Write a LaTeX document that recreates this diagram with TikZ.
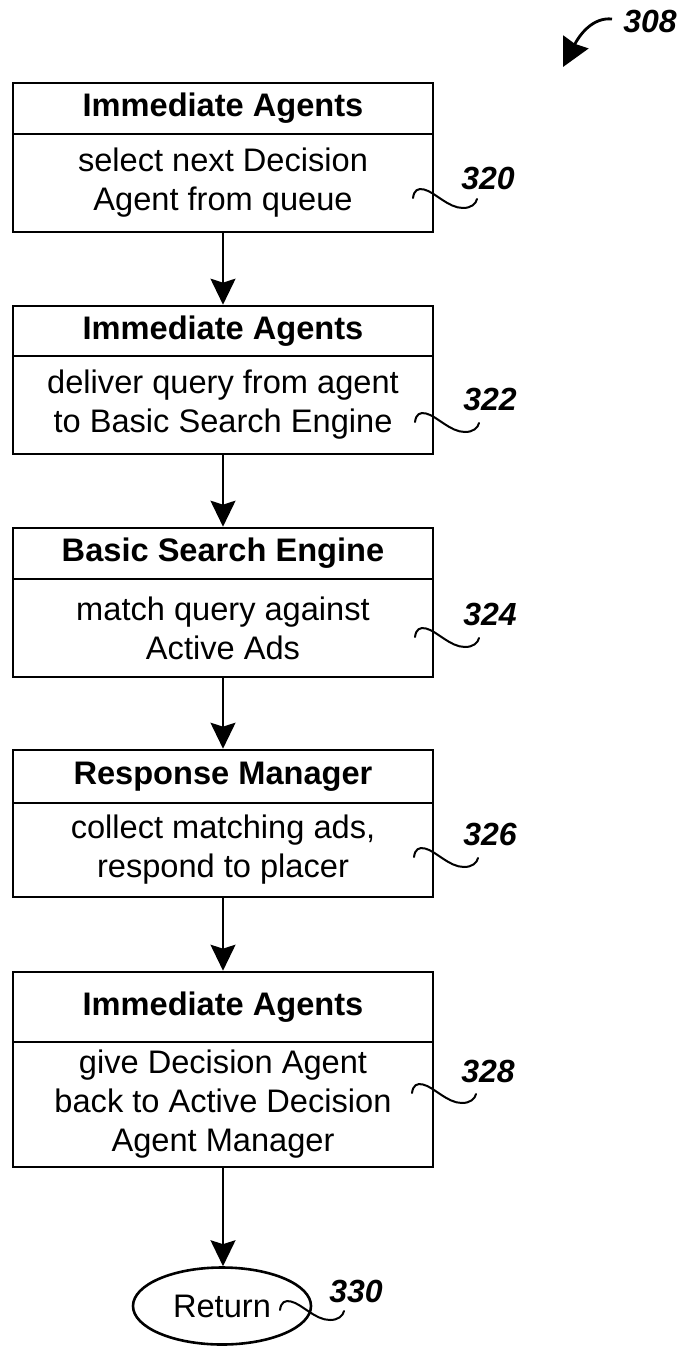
\documentclass[tikz,border=0pt]{standalone}
\usepackage{fontspec}
\setmainfont{Liberation Sans}
\usetikzlibrary{arrows.meta,shapes.geometric}
\begin{document}
\begin{tikzpicture}[x=0.5pt,y=-0.5pt,
  txt/.style={font=\fontsize{16.3}{19.5}\selectfont, align=center},
  hdr/.style={txt, draw, line width=1.3pt, minimum width=210pt, inner sep=0pt, font=\fontsize{16.3}{19.5}\selectfont\bfseries},
  bdy/.style={txt, draw, line width=1.3pt, minimum width=210pt, inner sep=0pt},
  lbl/.style={font=\fontsize{16}{19}\selectfont\bfseries\itshape, inner sep=0pt},
  arr/.style={line width=1pt, -{Stealth[length=13pt,width=12.5pt,inset=2pt]}},
  squig/.pic={\draw[line width=1pt, line cap=round] (0,0) .. controls (1,-8) and (5,-10) .. (11,-8.5) .. controls (22,-6) and (35,10) .. (50,10) .. controls (58,10) and (63,6) .. (64,1);}
]
\useasboundingbox (0,0) rectangle (684,1347);

% Box 1
\node[hdr, minimum height=25.5pt] (h1) at (223,108.5) {Immediate Agents};
\node[bdy, minimum height=49pt] (b1) at (223,183) {select next Decision\\Agent from queue};
% Box 2
\node[hdr, minimum height=25pt] (h2) at (223,331) {Immediate Agents};
\node[bdy, minimum height=49pt] (b2) at (223,405) {deliver query from agent\\to Basic Search Engine};
% Box 3
\node[hdr, minimum height=25.5pt] (h3) at (223,553.5) {Basic Search Engine};
\node[bdy, minimum height=49pt] (b3) at (223,628) {match query against\\Active Ads};
% Box 4
\node[hdr, minimum height=26.5pt] (h4) at (223,776.5) {Response Manager};
\node[bdy, minimum height=47pt] (b4) at (223,850) {collect matching ads,\\respond to placer};
% Box 5
\node[hdr, minimum height=35pt] (h5) at (223,1007) {Immediate Agents};
\node[bdy, minimum height=62.5pt] (b5) at (223,1104.5) {give Decision Agent\\back to Active Decision\\Agent Manager};
% Return
\node[txt, draw, ellipse, line width=1.3pt, minimum width=89pt, minimum height=38.5pt, inner sep=0pt] (ret) at (222,1306) {Return};

% connectors
\draw[arr] (b1.south) -- (h2.north);
\draw[arr] (b2.south) -- (h3.north);
\draw[arr] (b3.south) -- (h4.north);
\draw[arr] (b4.south) -- (h5.north);
\draw[arr] (b5.south) -- (ret.north -| b5.south);

% reference labels
\pic at (413,198) {squig};
\node[lbl] (l320) at (488,178) {320};
\pic at (415,422) {squig};
\node[lbl] (l322) at (490,399) {322};
\pic at (415,637) {squig};
\node[lbl] (l324) at (490,614) {324};
\pic at (414,857) {squig};
\node[lbl] (l326) at (490,834) {326};
\pic at (412,1093) {squig};
\node[lbl] (l328) at (488,1071) {328};
\pic at (280,1310) {squig};
\node[lbl] (l330) at (356,1291) {330};

% figure label
\node[lbl] (l308) at (650,21) {308};
\coordinate (a308s) at (612,19);
\coordinate (a308e) at (563,67);
\draw[line width=1.4pt, -{Stealth[length=14pt,width=14pt,inset=1pt]}] (a308s) .. controls (592,17) and (579,36) .. (a308e);
\end{tikzpicture}
\end{document}
